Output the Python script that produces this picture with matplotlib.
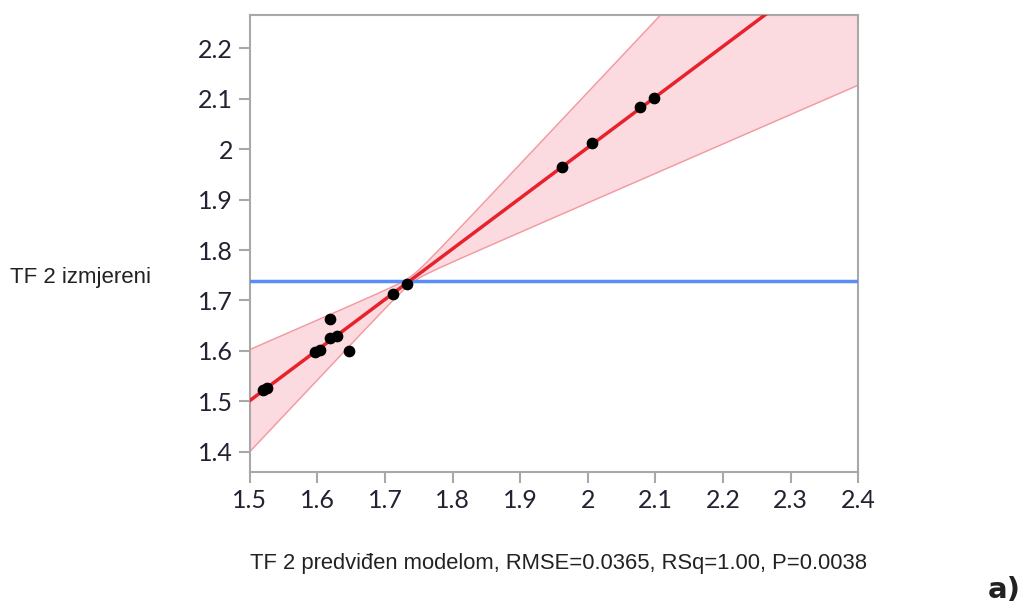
import matplotlib
matplotlib.use('Agg')
import matplotlib.pyplot as plt
import numpy as np

predicted = [1.519, 1.525, 1.596, 1.604, 1.618, 1.629, 1.618, 1.646,
             1.712, 1.732, 1.962, 2.006, 2.078, 2.098]
measured = [1.523, 1.527, 1.598, 1.602, 1.626, 1.630, 1.663, 1.600,
            1.713, 1.733, 1.964, 2.012, 2.083, 2.101]

x_ticks = [1.5, 1.6, 1.7, 1.8, 1.9, 2.0, 2.1, 2.2, 2.3, 2.4]
x_tick_labels = ['1.5', '1.6', '1.7', '1.8', '1.9', '2', '2.1', '2.2', '2.3', '2.4']
y_ticks = [1.4, 1.5, 1.6, 1.7, 1.8, 1.9, 2.0, 2.1, 2.2]
y_tick_labels = ['1.4', '1.5', '1.6', '1.7', '1.8', '1.9', '2', '2.1', '2.2']

mean_y = 1.739          # horizontal mean line
band_center = 1.74      # where confidence curves pinch
band_slope = 0.42       # half-width growth per unit of x
band_min = 0.007        # half-width at the pinch

fig = plt.figure(figsize=(10.24, 6.1), dpi=100)
ax = fig.add_axes([0.244, 0.226, 0.594, 0.749])

xs = np.linspace(1.5, 2.4, 300)
slope, intercept = np.polyfit(predicted, measured, 1)
fit = slope * xs + intercept
half = np.sqrt(band_min ** 2 + (band_slope * (xs - band_center)) ** 2)

ax.fill_between(xs, fit - half, fit + half, color='#fbdbe0', zorder=1)
ax.plot(xs, fit + half, color='#f29aa0', lw=1.0, zorder=2)
ax.plot(xs, fit - half, color='#f29aa0', lw=1.0, zorder=2)
ax.axhline(mean_y, color='#5b8ef5', lw=2.5, zorder=3)
ax.plot(xs, fit, color='#e8222c', lw=2.5, zorder=4)
ax.scatter(predicted, measured, s=55, color='black', zorder=5)

ax.set_xlim(1.5, 2.4)
ax.set_ylim(1.36, 2.265)
ax.set_xticks(x_ticks)
ax.set_xticklabels(x_tick_labels)
ax.set_yticks(y_ticks)
ax.set_yticklabels(y_tick_labels)

for s in ax.spines.values():
    s.set_color('#a8a8a8')
    s.set_linewidth(1.5)
ax.tick_params(length=8, width=1.5, color='#a8a8a8', labelsize=18,
               labelcolor='#222233', pad=4)
for lbl in ax.get_xticklabels() + ax.get_yticklabels():
    lbl.set_family('Lato')

fig.text(0.01, 0.545, 'TF 2 izmjereni', fontsize=16, family='Liberation Sans',
         color='#222222', va='center', ha='left')
fig.text(0.5455, 0.077, 'TF 2 predviđen modelom, RMSE=0.0365, RSq=1.00, P=0.0038',
         fontsize=15.8, family='Liberation Sans', color='#222222', va='center', ha='center')
fig.text(0.997, 0.032, 'a)', fontsize=21, fontweight='bold', family='DejaVu Sans',
         color='#222222', va='center', ha='right')

fig.savefig('out.png', dpi=100)
